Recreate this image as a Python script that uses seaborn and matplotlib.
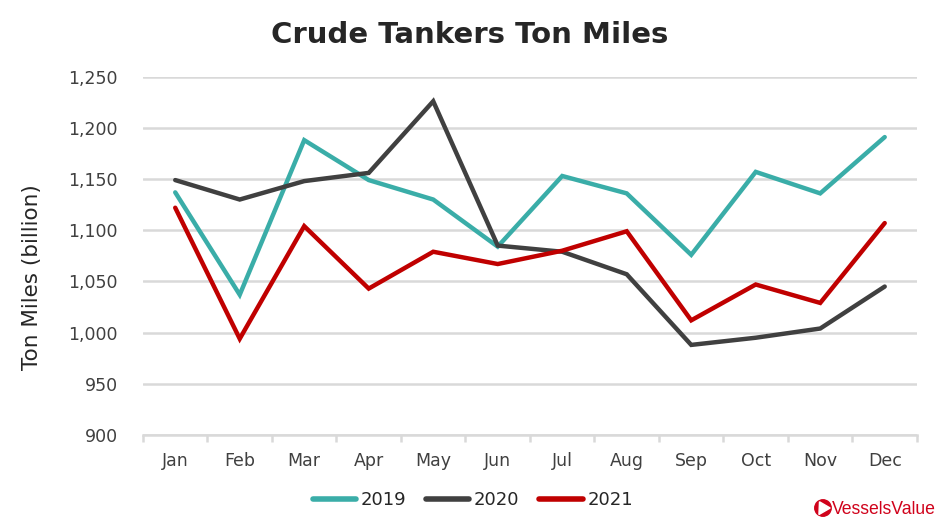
import matplotlib
matplotlib.use("Agg")
import matplotlib.pyplot as plt
import seaborn as sns
import pandas as pd
import matplotlib.patches as mpatches

months = ["Jan", "Feb", "Mar", "Apr", "May", "Jun", "Jul", "Aug", "Sep", "Oct", "Nov", "Dec"]
y2019 = [1137, 1037, 1188, 1149, 1130, 1084, 1153, 1136, 1076, 1157, 1136, 1191]
y2020 = [1149, 1130, 1148, 1156, 1226, 1085, 1079, 1057, 988, 995, 1004, 1045]
y2021 = [1122, 994, 1104, 1043, 1079, 1067, 1080, 1099, 1012, 1047, 1029, 1107]
years = ["2019", "2020", "2021"]
colors = ["#3AADA8", "#404040", "#C00000"]

rows = []
for yr, vals in zip(years, [y2019, y2020, y2021]):
    for i, (m, v) in enumerate(zip(months, vals)):
        rows.append({"idx": i, "month": m, "year": yr, "value": v})
df = pd.DataFrame(rows)

sns.set_theme(style="white")
plt.rcParams["font.family"] = "sans-serif"
plt.rcParams["font.sans-serif"] = ["DejaVu Sans"]

fig = plt.figure(figsize=(9.4, 5.31), dpi=100)
ax = fig.add_axes([0.1521, 0.1808, 0.8234, 0.6748])

sns.lineplot(data=df, x="idx", y="value", hue="year", palette=colors,
             linewidth=3.2, ax=ax, legend=False, sort=False)
for line in ax.get_lines():
    line.set_solid_capstyle("round")
    line.set_solid_joinstyle("miter")

ax.set_xlim(-0.5, 11.5)
ax.set_ylim(900, 1250)
ax.set_yticks(range(900, 1251, 50))
ax.set_yticklabels([f"{v:,}" for v in range(900, 1251, 50)], fontsize=12.5,
                   color="#404040", family="DejaVu Sans")
ax.yaxis.grid(True, color="#D9D9D9", linewidth=1.8)
ax.set_axisbelow(True)
ax.set_xticks(range(12))
ax.set_xticklabels(months, fontsize=12.5, color="#404040", family="DejaVu Sans")
ax.tick_params(axis="x", which="major", length=0, pad=12)
ax.tick_params(axis="y", length=0, pad=18)
ax.set_xticks([i - 0.5 for i in range(13)], minor=True)
ax.tick_params(axis="x", which="minor", bottom=True, length=5, color="#D9D9D9", width=1.8)
for s in ["top", "right", "left"]:
    ax.spines[s].set_visible(False)
ax.spines["bottom"].set_color("#D9D9D9")
ax.spines["bottom"].set_linewidth(1.8)
ax.set_xlabel("")
ax.set_ylabel("Ton Miles (billion)", fontsize=15.5, color="#262626",
              family="DejaVu Sans")
ax.yaxis.set_label_coords(-0.1305, 0.441)

fig.text(0.5, 0.934, "Crude Tankers Ton Miles", ha="center", va="center",
         fontsize=21, fontweight="bold", color="#262626", family="DejaVu Sans")

handles = [plt.Line2D([], [], color=c, linewidth=4, solid_capstyle="round") for c in colors]
fig.legend(handles, years, loc="center", bbox_to_anchor=(0.503, 0.058), ncol=3,
           frameon=False, handlelength=2.4, handletextpad=0.25,
           columnspacing=1.1, labelcolor="#262626",
           prop={"family": "DejaVu Sans", "size": 13})

# logo
circ = mpatches.Ellipse((0.8755, 0.0433), 0.0175, 0.031, transform=fig.transFigure,
                        color="#D0021B", zorder=5)
fig.patches.append(circ)
tri = mpatches.Polygon([(0.8712, 0.031), (0.8832, 0.0433), (0.8718, 0.055)], closed=True,
                       transform=fig.transFigure, color="white", zorder=6)
fig.patches.append(tri)
fig.text(0.8855, 0.0414, "VesselsValue", ha="left", va="center", fontsize=12.7,
         color="#D0021B", family=["Liberation Sans", "DejaVu Sans"])

fig.savefig("out.png", dpi=100)
